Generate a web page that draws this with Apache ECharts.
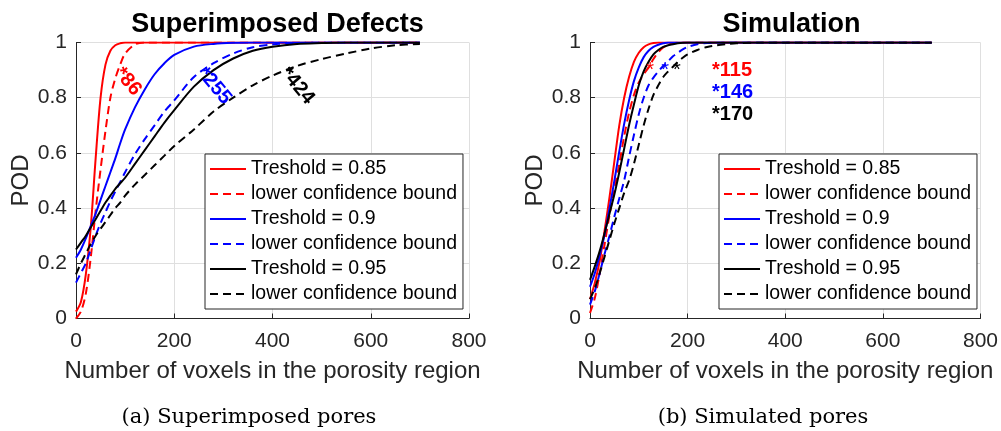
<!DOCTYPE html>
<html>
<head>
<meta charset="utf-8">
<title>POD curves</title>
<script src="https://cdn.jsdelivr.net/npm/echarts/dist/echarts.min.js"></script>
<style>
  html, body { margin: 0; padding: 0; background: #fff; }
  #chart { width: 1001px; height: 431px; }
</style>
</head>
<body>
<div id="chart"></div>
<script>
// x 网格 (voxels) 和各条 POD 曲线, 读自图片
const supX = [0, 10, 20, 30, 40, 50, 60, 70, 80, 90, 100, 120, 140, 160, 180, 200, 240, 280, 320, 360, 400, 450, 500, 550, 600, 650, 700];
const supT85 = [0.025, 0.06, 0.16, 0.33, 0.58, 0.8, 0.92, 0.97, 0.99, 0.997, 1, 1, 1, 1, 1, 1, 1, 1, 1, 1, 1, 1, 1, 1, 1, 1, 1];
const supL85 = [0, 0.025, 0.09, 0.22, 0.39, 0.54, 0.68, 0.8, 0.87, 0.92, 0.96, 0.993, 1, 1, 1, 1, 1, 1, 1, 1, 1, 1, 1, 1, 1, 1, 1];
const supT90 = [0.22, 0.25, 0.29, 0.335, 0.38, 0.43, 0.48, 0.53, 0.58, 0.635, 0.685, 0.765, 0.83, 0.885, 0.925, 0.955, 0.985, 0.995, 0.999, 1, 1, 1, 1, 1, 1, 1, 1];
const supL90 = [0.13, 0.165, 0.2, 0.25, 0.3, 0.345, 0.385, 0.425, 0.46, 0.495, 0.53, 0.595, 0.65, 0.7, 0.75, 0.79, 0.875, 0.925, 0.96, 0.983, 0.993, 0.998, 1, 1, 1, 1, 1];
const supT95 = [0.25, 0.275, 0.3, 0.33, 0.36, 0.39, 0.42, 0.445, 0.47, 0.49, 0.51, 0.56, 0.61, 0.66, 0.71, 0.755, 0.84, 0.9, 0.942, 0.97, 0.985, 0.995, 0.998, 1, 1, 1, 1];
const supL95 = [0.16, 0.2, 0.235, 0.27, 0.3, 0.325, 0.35, 0.375, 0.4, 0.42, 0.445, 0.485, 0.52, 0.555, 0.59, 0.625, 0.685, 0.75, 0.8, 0.845, 0.88, 0.915, 0.94, 0.96, 0.978, 0.99, 0.995];

const simX = [0, 10, 20, 30, 40, 50, 60, 70, 80, 90, 100, 110, 120, 130, 140, 150, 160, 170, 180, 190, 200, 220, 240, 260, 280, 300, 350, 400, 500, 600, 700];
const simT85 = [0.07, 0.13, 0.21, 0.32, 0.44, 0.57, 0.7, 0.8, 0.875, 0.93, 0.963, 0.983, 0.993, 0.998, 1, 1, 1, 1, 1, 1, 1, 1, 1, 1, 1, 1, 1, 1, 1, 1, 1];
const simL85 = [0.02, 0.075, 0.165, 0.27, 0.375, 0.47, 0.56, 0.66, 0.745, 0.81, 0.855, 0.885, 0.91, 0.94, 0.965, 0.982, 0.992, 0.997, 0.999, 1, 1, 1, 1, 1, 1, 1, 1, 1, 1, 1, 1];
const simT90 = [0.115, 0.165, 0.23, 0.305, 0.4, 0.5, 0.605, 0.705, 0.79, 0.86, 0.91, 0.947, 0.97, 0.984, 0.992, 0.997, 1, 1, 1, 1, 1, 1, 1, 1, 1, 1, 1, 1, 1, 1, 1];
const simL90 = [0.05, 0.1, 0.165, 0.235, 0.3, 0.37, 0.435, 0.5, 0.585, 0.665, 0.74, 0.8, 0.845, 0.873, 0.895, 0.915, 0.932, 0.95, 0.963, 0.975, 0.984, 0.994, 0.998, 1, 1, 1, 1, 1, 1, 1, 1];
const simT95 = [0.14, 0.19, 0.245, 0.31, 0.38, 0.45, 0.53, 0.615, 0.7, 0.775, 0.845, 0.895, 0.93, 0.957, 0.973, 0.984, 0.99, 0.994, 0.997, 0.999, 1, 1, 1, 1, 1, 1, 1, 1, 1, 1, 1];
const simL95 = [0.07, 0.11, 0.165, 0.225, 0.285, 0.345, 0.4, 0.455, 0.5, 0.56, 0.63, 0.7, 0.76, 0.81, 0.845, 0.875, 0.895, 0.912, 0.93, 0.945, 0.957, 0.973, 0.984, 0.99, 0.994, 0.997, 1, 1, 1, 1, 1];

// 0.9 POD 对应的 voxel 数
const supMarks = [86, 255, 424];
const simMarks = [115, 146, 170];
const markLevel = 0.9;
const simNoteX = 250;
const simNoteY = [0.9, 0.82, 0.74];

// 图例名字 (零宽字符区分三个 "lower confidence bound")
const names = ['Treshold = 0.85', 'lower confidence bound', 'Treshold = 0.9', 'lower confidence bound\u200b', 'Treshold = 0.95', 'lower confidence bound\u200b\u200b'];
const colors = ['#ff0000', '#ff0000', '#0000ff', '#0000ff', '#000000', '#000000'];
const dashes = ['solid', [8, 5], 'solid', [8, 5], 'solid', [8, 5]];

const FONT = 'Liberation Sans, Arial, Helvetica, sans-serif';
const AXIS = '#262626';

let chart = echarts.init(document.getElementById('chart'), null, { renderer: 'canvas' });

function lines(xs, rows, gridIndex) {
    return rows.map((ys, i) => ({
        type: 'line',
        name: names[i],
        xAxisIndex: gridIndex,
        yAxisIndex: gridIndex,
        data: xs.map((x, j) => [x, ys[j]]),
        smooth: 0.3,
        symbol: 'none',
        silent: true,
        z: 3,
        lineStyle: { color: colors[i], width: 2, type: dashes[i] },
        itemStyle: { color: colors[i] }
    }));
}

function xAxisFor(gridIndex) {
    return {
        type: 'value', gridIndex, min: 0, max: 800, interval: 200,
        name: 'Number of voxels in the porosity region',
        nameLocation: 'middle', nameGap: 41,
        nameTextStyle: { fontSize: 24, color: AXIS, fontFamily: FONT },
        axisLine: { show: true, onZero: false, lineStyle: { color: AXIS, width: 1 } },
        axisTick: { show: true, inside: true, length: 5, lineStyle: { color: AXIS } },
        axisLabel: { fontSize: 21, color: AXIS, margin: 12, fontFamily: FONT, showMinLabel: true, showMaxLabel: true },
        splitLine: { show: true, lineStyle: { color: '#dfdfdf', width: 1 } }
    };
}

function yAxisFor(gridIndex) {
    return {
        type: 'value', gridIndex, min: 0, max: 1, interval: 0.2,
        name: 'POD', nameLocation: 'middle', nameGap: 43,
        nameTextStyle: { fontSize: 24, color: AXIS, fontFamily: FONT },
        axisLine: { show: true, onZero: false, lineStyle: { color: AXIS, width: 1 } },
        axisTick: { show: true, inside: true, length: 5, lineStyle: { color: AXIS } },
        axisLabel: { fontSize: 21, color: AXIS, margin: 9, fontFamily: FONT, showMinLabel: true, showMaxLabel: true },
        splitLine: { show: true, lineStyle: { color: '#dfdfdf', width: 1 } }
    };
}

function legendAt(left) {
    return {
        data: names, orient: 'vertical', left, top: 154, selectedMode: false,
        itemWidth: 36, itemHeight: 14, itemGap: 5, padding: [5, 6, 5, 4],
        backgroundColor: '#ffffff', borderColor: AXIS, borderWidth: 1, borderRadius: 0,
        // 只要线, 不要圆点
        itemStyle: { opacity: 0 },
        lineStyle: { opacity: 1 },
        textStyle: { fontSize: 19.5, lineHeight: 20, color: '#000', fontFamily: FONT }
    };
}

const markColors = ['#ff0000', '#0000ff', '#000000'];

let option = {
    animation: false,
    backgroundColor: '#ffffff',
    title: [
        { text: 'Superimposed Defects', left: 272.5, top: 6, textAlign: 'center',
          textStyle: { fontSize: 27, fontWeight: 'bold', color: '#000', fontFamily: FONT } },
        { text: 'Simulation', left: 786.5, top: 6, textAlign: 'center',
          textStyle: { fontSize: 27, fontWeight: 'bold', color: '#000', fontFamily: FONT } },
        { text: '(a) Superimposed pores', left: 244, top: 402, textAlign: 'center',
          textStyle: { fontSize: 21, fontWeight: 'normal', color: '#000', fontFamily: 'DejaVu Serif, serif' } },
        { text: '(b) Simulated pores', left: 758, top: 402, textAlign: 'center',
          textStyle: { fontSize: 21, fontWeight: 'normal', color: '#000', fontFamily: 'DejaVu Serif, serif' } }
    ],
    grid: [
        { left: 76, top: 42.5, width: 393, height: 276 },
        { left: 590, top: 42.5, width: 393, height: 276 }
    ],
    xAxis: [xAxisFor(0), xAxisFor(1)],
    yAxis: [yAxisFor(0), yAxisFor(1)],
    legend: [legendAt(205), legendAt(719)],
    series: [
        ...lines(supX, [supT85, supL85, supT90, supL90, supT95, supL95], 0),
        ...lines(simX, [simT85, simL85, simT90, simL90, simT95, simL95], 1),
        // 左图: 斜着写的 *86 / *255 / *424
        {
            type: 'scatter', xAxisIndex: 0, yAxisIndex: 0, symbolSize: 0, silent: true, z: 5,
            itemStyle: { opacity: 1 },
            data: supMarks.map((v, i) => ({
                value: [v, markLevel],
                label: { color: markColors[i] }
            })),
            label: {
                show: true, position: 'inside', rotate: -50, align: 'left', verticalAlign: 'middle',
                formatter: (p) => '*' + p.value[0], opacity: 1,
                fontSize: 20, fontWeight: 'bold', fontFamily: FONT
            }
        },
        // 右图: 曲线上的星号
        {
            type: 'scatter', xAxisIndex: 1, yAxisIndex: 1, symbolSize: 0, silent: true, z: 5,
            itemStyle: { opacity: 1 },
            data: simMarks.map((v, i) => ({
                value: [v, markLevel],
                label: { color: markColors[i] }
            })),
            label: {
                show: true, position: 'inside', align: 'left', verticalAlign: 'middle',
                formatter: '*', fontSize: 20, opacity: 1, fontFamily: FONT
            }
        },
        // 右图: *115 / *146 / *170
        {
            type: 'scatter', xAxisIndex: 1, yAxisIndex: 1, symbolSize: 0, silent: true, z: 5,
            itemStyle: { opacity: 1 },
            data: simMarks.map((v, i) => ({
                value: [simNoteX, simNoteY[i]],
                name: '*' + v,
                label: { color: markColors[i] }
            })),
            label: {
                show: true, position: 'inside', align: 'left', verticalAlign: 'middle', opacity: 1,
                formatter: (p) => p.name, fontSize: 20, fontWeight: 'bold', fontFamily: FONT
            }
        }
    ]
};

chart.setOption(option);
</script>
</body>
</html>
